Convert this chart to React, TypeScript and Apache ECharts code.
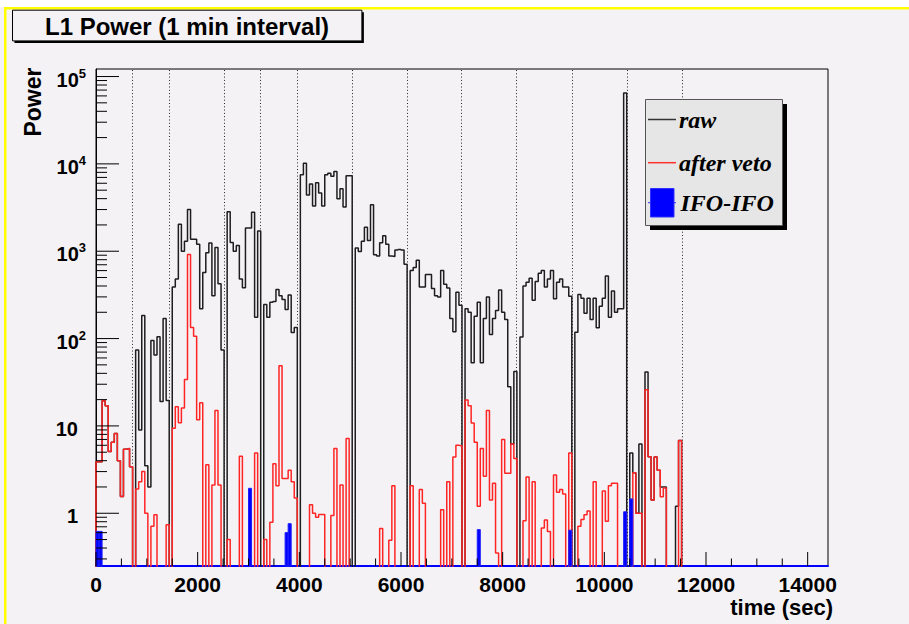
import React, { useEffect, useRef } from "react";
import * as echarts from "echarts";

// ---- histogram binning ----------------------------------------------------
const BIN_SECONDS = 60;
const N_BINS = 240; // 4 hours of 1-minute bins
const TIME_MAX = N_BINS * BIN_SECONDS;
const Y_MIN = 0.249;
const Y_MAX = 1.22e5;
const FLOOR = 1e-3; // empty bins sit below the visible range and get clipped

// raw power per 1-minute bin (bins past the end of the list are empty)
const rawPower: number[] = [
  3.9, 3.9, 19.4, 17, 5.1, 6.5, 8.2, 4, 1.56, 5.4,
  5.5, 3.4, 0, 74, 9, 184, 3.5, 2.0, 95, 65,
  105, 19, 170, 19.6, 0, 390, 480, 2040, 1000, 1300,
  3000, 1370, 1370, 1200, 220, 570, 960, 1240, 310, 1100,
  425, 74, 0, 2830, 1260, 1000, 1160, 480, 382, 1850,
  1850, 2800, 176, 1700, 0, 245, 176, 260, 265, 365,
  310, 280, 215, 316, 117, 134, 0, 7500, 10200, 4400,
  5900, 3300, 6100, 4650, 3300, 7500, 7800, 7200, 8200, 4000,
  5200, 3200, 7300, 7300, 0, 1090, 990, 1300, 1880, 1330,
  3400, 910, 880, 1250, 1500, 1200, 880, 870, 1030, 1050,
  1030, 710, 0, 600, 650, 790, 390, 390, 540, 540,
  375, 310, 300, 600, 420, 380, 170, 120, 340, 240,
  0, 220, 200, 53, 180, 260, 53, 170, 300, 111,
  170, 210, 360, 200, 165, 28, 6.2, 42, 0, 104,
  400, 440, 490, 275, 450, 560, 600, 390, 480, 600,
  285, 440, 480, 390, 390, 305, 0, 118, 320, 290,
  195, 290, 165, 290, 133, 235, 290, 520, 175, 350,
  200, 220, 220, 65000, 0, 4.9, 2.9, 1.0, 6.2, 0,
  41.5, 4.45, 1.42, 4.4, 3.1, 2.0, 2.0, 0, 0, 0,
  1.2, 6.8,
];

// power left after the veto cuts
const afterVeto: number[] = [
  3.9, 3.9, 19.4, 17, 5.1, 6.5, 8.2, 4, 1.56, 5.4,
  5.5, 3.4, 0, 1.9, 2.3, 3, 1.0, 0, 0.71, 0.96,
  0, 0, 0, 0.74, 0, 9.4, 16.6, 10.9, 16, 34,
  915, 134, 106, 11.8, 18.4, 0, 3.6, 0, 2.1, 15,
  2.1, 0, 0, 0.5, 0, 0, 0, 4.5, 0, 0,
  0, 0, 4.9, 0, 0, 0.5, 0, 0.79, 3.7, 2.07,
  49, 2.5, 2.5, 3.1, 2.3, 1.5, 0, 0, 0, 0,
  1.25, 1.0, 0.9, 0.97, 0.97, 0, 0, 0.94, 5.5, 0,
  2.1, 0, 7.2, 0, 0, 0, 0, 0, 0, 0,
  0, 0, 0, 0.67, 0, 0, 0.49, 2.07, 0, 0,
  0, 0, 0, 2.07, 0, 0, 1.87, 1.3, 0, 0,
  0, 0, 0, 1.1, 0, 2.3, 0, 4.4, 6.0, 5.9,
  0, 19.8, 17, 10.8, 6.5, 1.2, 5.5, 2.65, 15, 1.42,
  2.2, 0.35, 0, 7, 2.87, 2.87, 6.2, 4.25, 0, 0,
  0.82, 2.6, 0, 2.3, 0, 0, 0.68, 0.84, 0.62, 0,
  2.75, 1.74, 1.87, 1.66, 0, 4.9, 0, 0, 0.71, 0.85,
  0.96, 1.06, 0, 2.3, 0, 0, 1.8, 0.81, 2.07, 2.2,
  2.2, 0, 0, 0, 0, 0, 2.9, 1.0, 1.0, 0,
  25.9, 4.45, 1.42, 4.4, 3.1, 1.55, 1.95, 0, 0, 0,
  0, 6.8,
];

// IFO-IFO coincidences: bin index and power
const ifoBins: number[] = [0, 1, 50, 62, 63, 125, 155, 173, 175];
const ifoValues: number[] = [0.62, 0.62, 1.93, 0.6, 0.76, 0.65, 0.64, 1.04, 1.46];

// lock-segment boundaries (seconds)
const segmentStarts: number[] = [708, 1436, 2524, 3226, 3954, 5036, 6124, 7187, 8277, 9365, 10447, 11542];

// axis ticks
const xMajorTicks: number[] = [0, 2000, 4000, 6000, 8000, 10000, 12000, 14000];
const xMinorTicks: number[] = [
  500, 1000, 1500, 2500, 3000, 3500, 4500, 5000, 5500, 6500, 7000, 7500,
  8500, 9000, 9500, 10500, 11000, 11500, 12500, 13000, 13500,
];
const yDecades: number[] = [0.1, 1, 10, 100, 1000, 10000, 100000];
const yMinorSteps: number[] = [2, 3, 4, 5, 6, 7, 8, 9];

const BG = "#f5f2f5";
const SANS = '"Liberation Sans", Arial, Helvetica, sans-serif';
const SERIF = '"Liberation Serif", "Times New Roman", serif';

function padBins(values: number[]): number[] {
  return Array.from({ length: N_BINS }, (_, i) => values[i] ?? 0);
}

// ROOT-style histogram outline: one point per bin low edge, drawn as a step
function outline(values: number[]): number[][] {
  const bins = padBins(values);
  const pts: number[][] = [[0, FLOOR]];
  bins.forEach((v, i) => pts.push([i * BIN_SECONDS, v > 0 ? v : FLOOR]));
  pts.push([TIME_MAX, FLOOR]);
  return pts;
}

function yLabel(v: number): string {
  const lg = Math.log10(v);
  const e = Math.round(lg);
  if (Math.abs(lg - e) > 1e-6 || e < 0) return "";
  if (e === 0) return "{n|1}{gap|}";
  if (e === 1) return "{n|10}{gap|}";
  return `{n|10}{s|${e}}`;
}

export default function App() {
  const ref = useRef<HTMLDivElement>(null);

  useEffect(() => {
    if (!ref.current) return;
    const chart = echarts.init(ref.current, null, { renderer: "svg" });

    const yTickData: number[][] = [];
    yDecades.forEach((d) => {
      if (d >= Y_MIN && d <= Y_MAX) yTickData.push([0, d, 23]);
      yMinorSteps.forEach((k) => {
        const v = k * d;
        if (v >= Y_MIN && v <= Y_MAX) yTickData.push([0, v, 11]);
      });
    });
    const xTickData: number[][] = [
      ...xMajorTicks.map((t) => [t, Y_MIN, 14]),
      ...xMinorTicks.map((t) => [t, Y_MIN, 7.5]),
    ];

    const option: any = {
      animation: false,
      backgroundColor: BG,
      grid: {
        left: 96,
        top: 69,
        width: 732,
        height: 497,
        show: true,
        borderColor: "#000",
        borderWidth: 1,
        backgroundColor: "transparent",
      },
      xAxis: {
        type: "value",
        min: 0,
        max: TIME_MAX,
        interval: 2000,
        axisLine: { show: true, onZero: false, lineStyle: { color: "#0000ff", width: 2 } },
        axisTick: { show: false },
        splitLine: { show: false },
        axisLabel: {
          showMaxLabel: false,
          formatter: (v: number) => (v <= 14000 ? String(v) : ""),
          color: "#000",
          fontSize: 21,
          lineHeight: 19,
          fontWeight: "bold",
          fontFamily: SANS,
          margin: 9,
        },
      },
      yAxis: {
        type: "log",
        logBase: 10,
        min: Y_MIN,
        max: Y_MAX,
        axisLine: { show: true, lineStyle: { color: "#000", width: 1 } },
        axisTick: { show: false },
        splitLine: { show: false },
        axisLabel: {
          formatter: yLabel,
          margin: 10,
          padding: [6, 0, 0, 0],
          rich: {
            n: { fontSize: 20, fontWeight: "bold", fontFamily: SANS, color: "#000", lineHeight: 26, verticalAlign: "middle" },
            s: { fontSize: 13, fontWeight: "bold", fontFamily: SANS, color: "#000", lineHeight: 14, verticalAlign: "top" },
            gap: { width: 8 },
          },
        },
      },
      series: [
        {
          name: "raw",
          type: "line",
          step: "end",
          data: outline(rawPower),
          showSymbol: false,
          symbol: "none",
          clip: true,
          z: 3,
          lineStyle: { color: "#1e1e1e", width: 1.5 },
          markLine: {
            silent: true,
            symbol: ["none", "none"],
            label: { show: false },
            z: 1,
            lineStyle: { color: "#222", width: 1, type: [1, 2.3] },
            data: segmentStarts.map((t) => ({ xAxis: t })),
          },
        },
        {
          name: "after veto",
          type: "line",
          step: "end",
          data: outline(afterVeto),
          showSymbol: false,
          symbol: "none",
          clip: true,
          z: 4,
          lineStyle: { color: "#ff2525", width: 1.5 },
        },
        {
          name: "IFO-IFO",
          type: "custom",
          z: 5,
          silent: true,
          data: ifoBins.map((b, i) => [b * BIN_SECONDS, ifoValues[i]]),
          encode: { x: 0, y: 1 },
          renderItem: (params: any, api: any) => {
            const t = api.value(0);
            const v = api.value(1);
            const p0 = api.coord([t, Y_MIN]);
            const p1 = api.coord([t + BIN_SECONDS, v]);
            return {
              type: "rect",
              shape: { x: p0[0], y: p1[1], width: p1[0] - p0[0], height: p0[1] - p1[1] },
              style: { fill: "#0000ff", stroke: "#2020ff", lineWidth: 1 },
            };
          },
        },
        {
          name: "yTicks",
          type: "custom",
          z: 6,
          silent: true,
          data: yTickData,
          encode: { x: 0, y: 1 },
          renderItem: (params: any, api: any) => {
            const p = api.coord([api.value(0), api.value(1)]);
            const len = api.value(2);
            return {
              type: "line",
              shape: { x1: p[0], y1: p[1], x2: p[0] + len, y2: p[1] },
              style: { stroke: "#000", lineWidth: 1 },
            };
          },
        },
        {
          name: "xTicks",
          type: "custom",
          z: 6,
          silent: true,
          data: xTickData,
          encode: { x: 0, y: 1 },
          renderItem: (params: any, api: any) => {
            const p = api.coord([api.value(0), api.value(1)]);
            const len = api.value(2);
            return {
              type: "line",
              shape: { x1: p[0], y1: p[1], x2: p[0], y2: p[1] - len },
              style: { stroke: "#000", lineWidth: 1 },
            };
          },
        },
      ],
      graphic: [
        // canvas edge
        { type: "rect", silent: true, shape: { x: 0, y: 0, width: 909, height: 7 }, style: { fill: "#ffffff" } },
        { type: "rect", silent: true, shape: { x: 4, y: 7, width: 905, height: 2.5 }, style: { fill: "#ffff00" } },
        { type: "rect", silent: true, shape: { x: 4, y: 7, width: 2.5, height: 617 }, style: { fill: "#ffff00" } },
        // title box
        { type: "rect", silent: true, shape: { x: 14.5, y: 12.2, width: 349.4, height: 30.7 }, style: { fill: "#000" } },
        { type: "rect", silent: true, shape: { x: 12.5, y: 10.2, width: 349.4, height: 30.7 }, style: { fill: BG, stroke: "#000", lineWidth: 1 } },
        {
          type: "text",
          silent: true,
          x: 187,
          y: 26,
          style: { text: "L1 Power (1 min interval)", font: `bold 24px ${SANS}`, fill: "#000", align: "center", verticalAlign: "middle" },
        },
        // axis titles
        {
          type: "text",
          silent: true,
          x: 33,
          y: 102,
          rotation: Math.PI / 2,
          style: { text: "Power", font: `bold 23px ${SANS}`, fill: "#000", align: "center", verticalAlign: "middle" },
        },
        {
          type: "text",
          silent: true,
          x: 833,
          y: 607,
          style: { text: "time (sec)", font: `bold 22px ${SANS}`, lineHeight: 20, fill: "#000", align: "right", verticalAlign: "middle" },
        },
        // legend
        { type: "rect", silent: true, z: 10, shape: { x: 650, y: 104, width: 137, height: 126 }, style: { fill: "#000" } },
        { type: "rect", silent: true, z: 10, shape: { x: 645.5, y: 99.5, width: 137, height: 126 }, style: { fill: "#e6e6e6", stroke: "#555", lineWidth: 1 } },
        { type: "line", silent: true, z: 11, shape: { x1: 648, y1: 119.5, x2: 676, y2: 119.5 }, style: { stroke: "#333", lineWidth: 1.5 } },
        { type: "text", silent: true, z: 11, x: 679, y: 119.5, style: { text: "raw", font: `italic bold 24px ${SERIF}`, fill: "#000", align: "left", verticalAlign: "middle" } },
        { type: "line", silent: true, z: 11, shape: { x1: 648, y1: 162.7, x2: 676, y2: 162.7 }, style: { stroke: "#ff3030", lineWidth: 1.5 } },
        { type: "text", silent: true, z: 11, x: 679, y: 162.7, style: { text: "after veto", font: `italic bold 24px ${SERIF}`, fill: "#000", align: "left", verticalAlign: "middle" } },
        { type: "line", silent: true, z: 11, shape: { x1: 648, y1: 202.7, x2: 676, y2: 202.7 }, style: { stroke: "#3030ff", lineWidth: 1 } },
        { type: "rect", silent: true, z: 12, shape: { x: 650.5, y: 188.5, width: 23.5, height: 28.5 }, style: { fill: "#0000ff", stroke: "#3030ff", lineWidth: 1 } },
        { type: "text", silent: true, z: 11, x: 680.5, y: 202.7, style: { text: "IFO-IFO", font: `italic bold 24px ${SERIF}`, fill: "#000", align: "left", verticalAlign: "middle" } },
      ],
    };

    chart.setOption(option);
    return () => chart.dispose();
  }, []);

  return (
    <div
      ref={ref}
      style={{ position: "fixed", left: 0, top: 0, width: 909, height: 624, background: BG }}
    />
  );
}
